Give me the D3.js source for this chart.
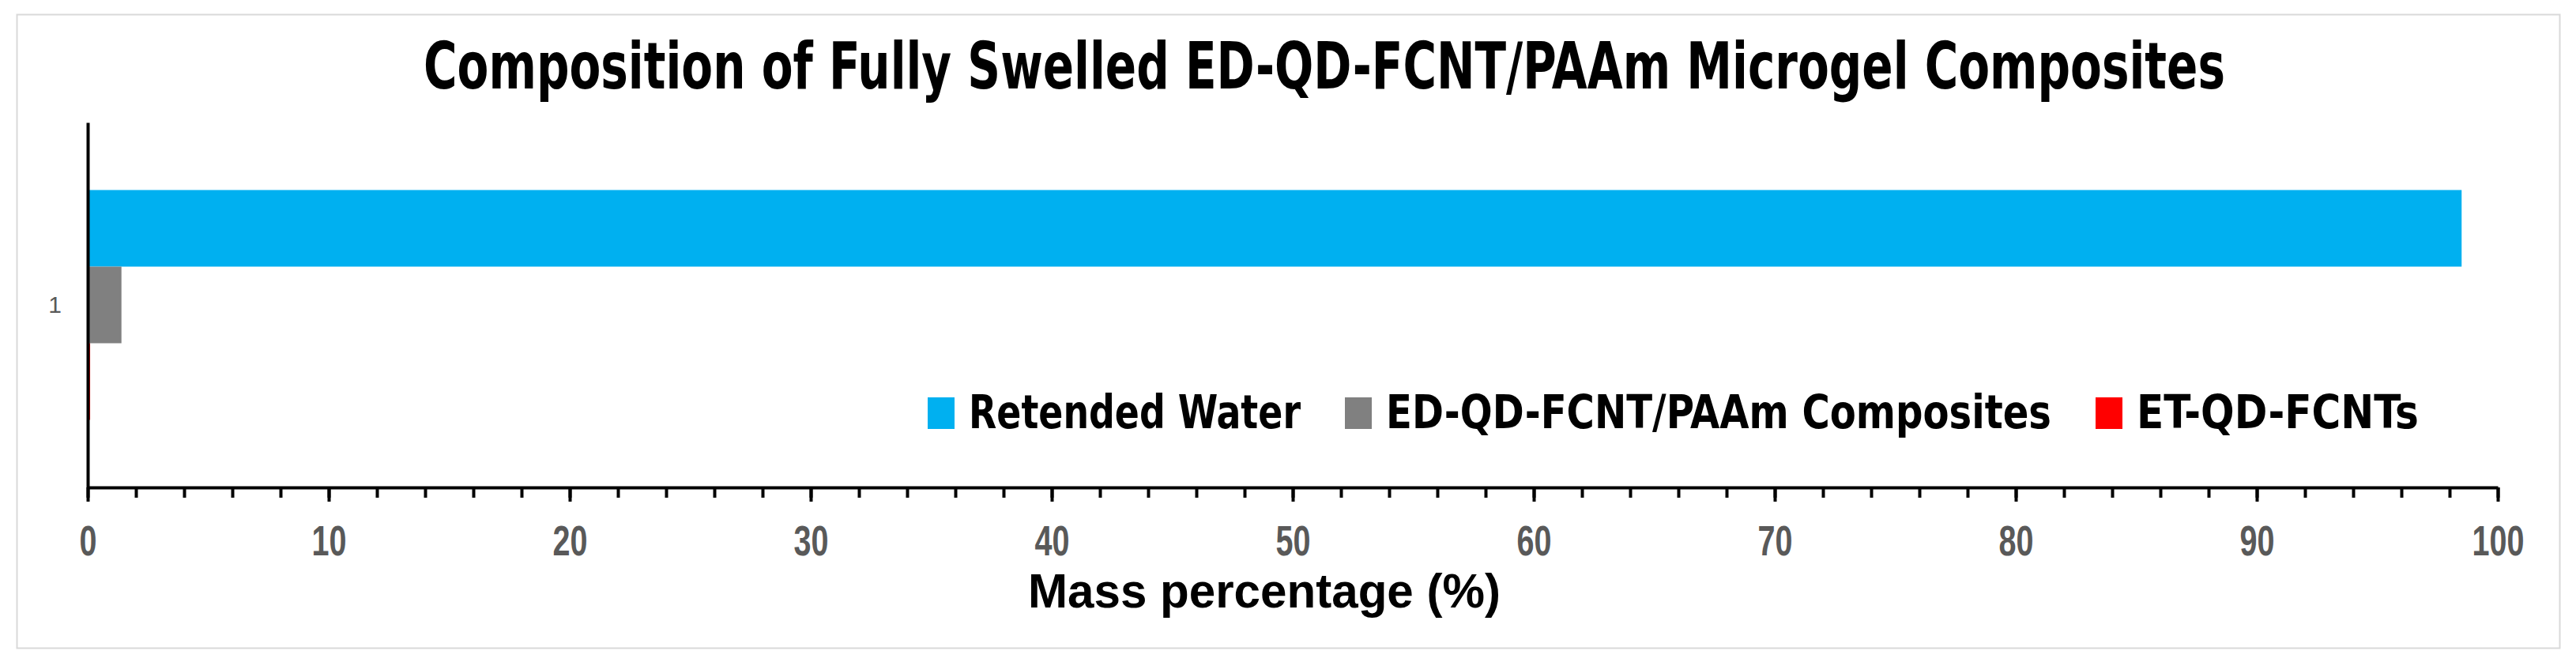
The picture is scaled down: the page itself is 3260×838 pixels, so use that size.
<!DOCTYPE html>
<html>
<head>
<meta charset="utf-8">
<script src="https://cdn.jsdelivr.net/npm/d3@7"></script>
<style>
  body { margin: 0; background: #fff; }
  svg { display: block; }
</style>
</head>
<body>
<div id="w"></div>
<script>
// data
var categories = ["1"];
var seriesNames = ["Retended Water", "ED-QD-FCNT/PAAm Composites", "ET-QD-FCNTs"];
var seriesValues = [98.5, 1.4, 0.1];
var seriesColors = ["#00B0F0", "#808080", "#FF0000"];
var xTicks = [0, 10, 20, 30, 40, 50, 60, 70, 80, 90, 100];
var xMinorTicks = d3.range(0, 101, 2);

var W = 3260, H = 838;
var m = {left: 111, right: 99, top: 155, bottom: 221};
var condensed = "'Liberation Sans Narrow','DejaVu Sans Condensed','Roboto Condensed',Roboto,sans-serif";

var svg = d3.select("#w").append("svg")
  .attr("width", W)
  .attr("height", H);

svg.append("rect")
  .attr("x", 21.5).attr("y", 18.5)
  .attr("width", 3218).attr("height", 802)
  .attr("fill", "#fff")
  .attr("stroke", "#d9d9d9")
  .attr("stroke-width", 2);

var x = d3.scaleLinear().domain([0, 100]).range([m.left, W - m.right]);
var y = d3.scaleBand().domain(categories).range([m.top, H - m.bottom])
  .paddingInner(0).paddingOuter(0.294);
var ySub = d3.scaleBand().domain(seriesNames).range([0, y.bandwidth()]).padding(0);

// bars
var rows = [];
categories.forEach(function(c) {
  seriesNames.forEach(function(s, i) {
    rows.push({cat: c, name: s, value: seriesValues[i], color: seriesColors[i]});
  });
});

svg.append("g").selectAll("rect")
  .data(rows)
  .enter().append("rect")
  .attr("x", x(0))
  .attr("y", function(d) { return y(d.cat) + ySub(d.name); })
  .attr("width", function(d) { return x(d.value) - x(0); })
  .attr("height", ySub.bandwidth())
  .attr("fill", function(d) { return d.color; });

// x axis: minor ticks then major ticks
var axisY = H - m.bottom;
svg.append("g")
  .attr("transform", "translate(0," + axisY + ")")
  .call(d3.axisBottom(x).tickValues(xMinorTicks).tickSize(13).tickFormat(""))
  .call(function(g) {
    g.select(".domain").remove();
    g.selectAll(".tick line").attr("stroke", "#000").attr("stroke-width", 4);
  });

var xAxis = svg.append("g")
  .attr("transform", "translate(0," + axisY + ")")
  .call(d3.axisBottom(x).tickValues(xTicks).tickSize(18).tickSizeOuter(0).tickPadding(30).tickFormat(d3.format("d")));
xAxis.select(".domain").attr("stroke", "#000").attr("stroke-width", 4);
xAxis.selectAll(".tick line").attr("stroke", "#000").attr("stroke-width", 4);
xAxis.selectAll(".tick text")
  .attr("fill", "#595959")
  .attr("font-family", "'Liberation Sans',Arial,sans-serif")
  .attr("font-weight", "bold")
  .attr("font-size", 53)
  .attr("textLength", function(d) { return String(d).length * 22; })
  .attr("lengthAdjust", "spacingAndGlyphs");

// y axis
var yAxis = svg.append("g")
  .attr("transform", "translate(" + m.left + ",0)")
  .call(d3.axisLeft(y).tickSize(0).tickSizeOuter(0).tickPadding(33));
yAxis.select(".domain").attr("stroke", "#000").attr("stroke-width", 4);
yAxis.selectAll(".tick text")
  .attr("fill", "#595959")
  .attr("font-family", "'Liberation Sans',Arial,sans-serif")
  .attr("font-size", 30);

// title
svg.append("text")
  .attr("x", 1676).attr("y", 112)
  .attr("text-anchor", "middle")
  .attr("font-family", condensed)
  .attr("font-weight", "bold")
  .attr("font-size", 82)
  .attr("textLength", 2280)
  .attr("lengthAdjust", "spacingAndGlyphs")
  .text("Composition of Fully Swelled ED-QD-FCNT/PAAm Microgel Composites");

// x axis title
svg.append("text")
  .attr("x", 1600).attr("y", 769)
  .attr("text-anchor", "middle")
  .attr("font-family", "'Liberation Sans',Arial,sans-serif")
  .attr("font-weight", "bold")
  .attr("font-size", 62)
  .attr("textLength", 598)
  .attr("lengthAdjust", "spacingAndGlyphs")
  .text("Mass percentage (%)");

// legend
var legendWidths = [420, 842, 357];
var lx = 1174;
var leg = svg.append("g");
seriesNames.forEach(function(s, i) {
  leg.append("rect")
    .attr("x", lx).attr("y", 503)
    .attr("width", 34).attr("height", 40)
    .attr("fill", seriesColors[i]);
  leg.append("text")
    .attr("x", lx + 52).attr("y", 542)
    .attr("font-family", condensed)
    .attr("font-weight", "bold")
    .attr("font-size", 58)
    .attr("textLength", legendWidths[i])
    .attr("lengthAdjust", "spacingAndGlyphs")
    .text(s);
  lx += 52 + legendWidths[i] + 56;
});
</script>
</body>
</html>
